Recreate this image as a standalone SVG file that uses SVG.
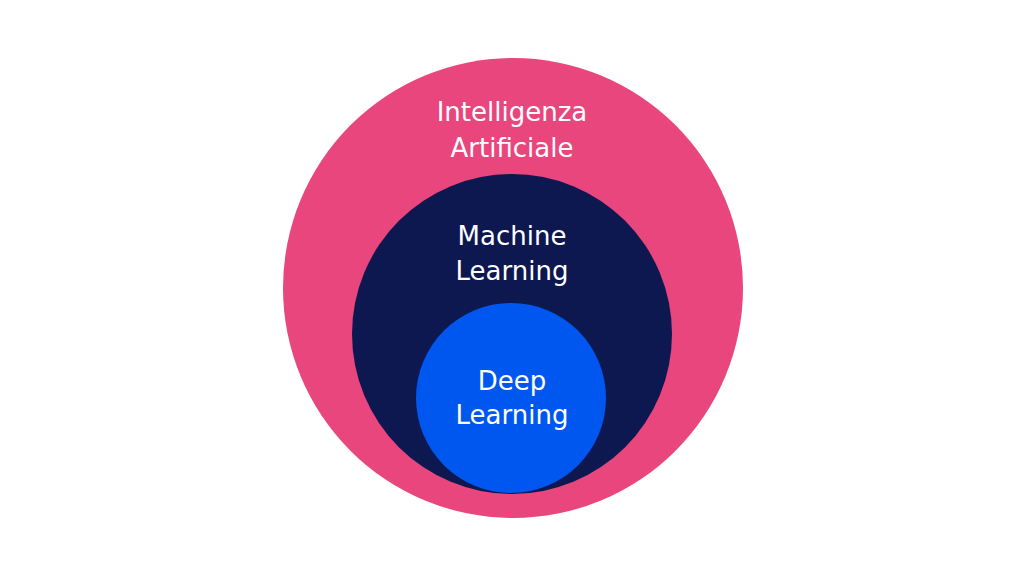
<svg xmlns="http://www.w3.org/2000/svg" width="1024" height="576" viewBox="0 0 1024 576">
<style>
text{font-family:"DejaVu Sans","Liberation Sans",sans-serif;font-size:26px;fill:#fff;text-anchor:middle}
</style>
<rect width="1024" height="576" fill="#fff"/>
<g id="ai"><circle cx="513" cy="288" r="230" fill="#E8467C"/>
<text x="512" y="121">Intelligenza</text><text x="512" y="157">Artificiale</text></g>
<g id="ml"><circle cx="512" cy="334" r="160" fill="#0E1850"/>
<text x="512" y="245">Machine</text><text x="512" y="280">Learning</text></g>
<g id="dl"><circle cx="511" cy="398" r="95" fill="#0057F0"/>
<text x="512" y="390">Deep</text><text x="512" y="424">Learning</text></g>
<g id="connectors"/>
</svg>
